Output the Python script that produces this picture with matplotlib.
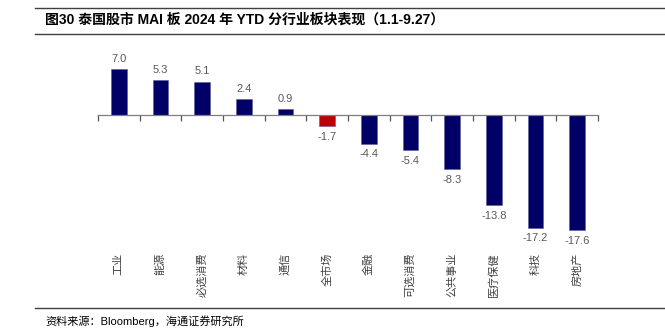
import numpy as np
import matplotlib
matplotlib.use("Agg")
from matplotlib import pyplot as plt
from matplotlib.lines import Line2D

plt.rcParams['font.family'] = ['Liberation Sans', 'Noto Sans CJK SC', 'DejaVu Sans']

# 数据
sectors = ['工业', '能源', '必选消费', '材料', '通信', '全市场', '金融',
           '可选消费', '公共事业', '医疗保健', '科技', '房地产']
returns = [7.0, 5.3, 5.1, 2.4, 0.9, -1.7, -4.4, -5.4, -8.3, -13.8, -17.2, -17.6]
highlight = '全市场'

W, H = 665, 336
fig = plt.figure(figsize=(W / 100, H / 100), dpi=100)

# 坐标轴位置（像素换算）
x0, x1 = 98, 598
y_top, y_bot = 62.6, 246
ax = fig.add_axes([x0 / W, 1 - y_bot / H, (x1 - x0) / W, (y_bot - y_top) / H])

x = np.arange(len(sectors))
colors = ['#C00000' if s == highlight else '#000066' for s in sectors]
bars = ax.bar(x, returns, width=0.38, color=colors, edgecolor='#5a5a9a', linewidth=0.4)

ax.set_xlim(-0.5, len(sectors) - 0.5)
ax.set_ylim(-20, 8)

for side in ['top', 'right', 'left']:
    ax.spines[side].set_visible(False)
ax.spines['bottom'].set_position(('data', 0))
ax.spines['bottom'].set_color('#7f7f7f')
ax.spines['bottom'].set_linewidth(0.9)
ax.set_yticks([])
ax.set_xticks(np.arange(len(sectors) + 1) - 0.5)
ax.set_xticklabels([])
ax.tick_params(axis='x', direction='out', length=4, width=0.9, color='#555555')

# 数值标签
for b, v in zip(bars, returns):
    off = 4 if v >= 0 else -4
    ax.annotate(f'{v:.1f}', (b.get_x() + b.get_width() / 2, v), xytext=(0, off),
                textcoords='offset points', ha='center',
                va='bottom' if v >= 0 else 'top', fontsize=8, color='#595959')

# 类别标签（竖排）
for xi, s in zip(x, sectors):
    ax.text(xi, -0.038, s, transform=ax.get_xaxis_transform(), rotation=90,
            ha='center', va='top', fontsize=8, color='#404040')

# 标题与来源
fig.text(45 / W, 1 - 20 / H, '图30 泰国股市 MAI 板 2024 年 YTD 分行业板块表现（1.1-9.27）',
         fontsize=10, fontweight='bold', ha='left', va='center', color='black')
fig.add_artist(Line2D([35 / W, 1], [1 - 8 / H] * 2, color='#404040', lw=1))
fig.add_artist(Line2D([35 / W, 1], [1 - 34 / H] * 2, color='#404040', lw=1))
fig.add_artist(Line2D([35 / W, 1], [1 - 308 / H] * 2, color='#404040', lw=1))
fig.text(45 / W, 1 - 321 / H, '资料来源：Bloomberg，海通证券研究所',
         fontsize=8, ha='left', va='center', color='black')

fig.savefig('out.png', dpi=100)
